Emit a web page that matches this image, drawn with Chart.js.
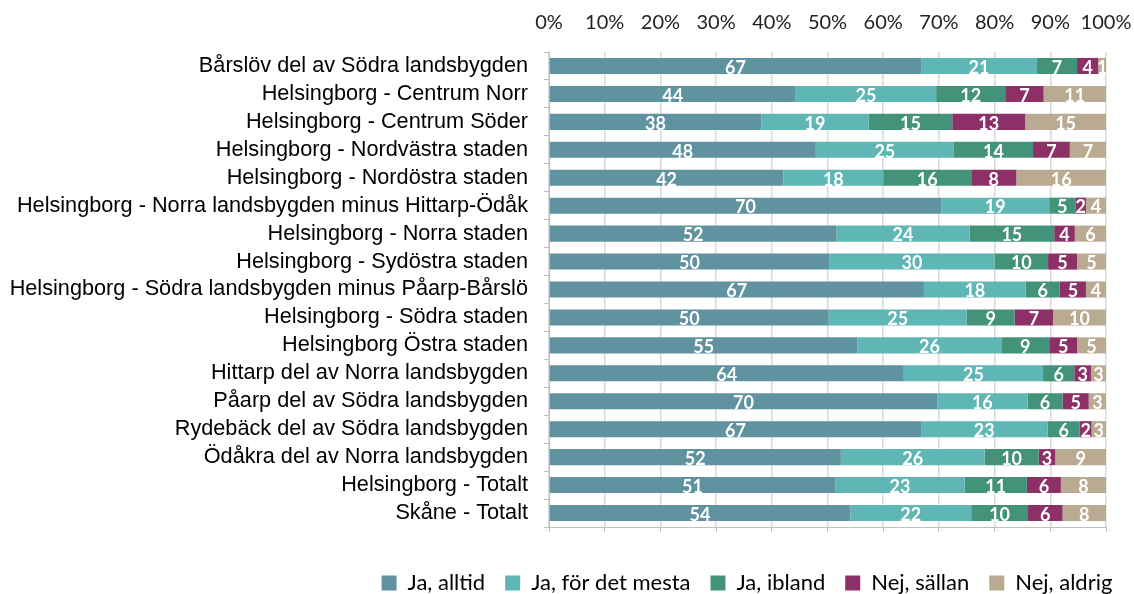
<!DOCTYPE html>
<html>
<head>
<meta charset="utf-8">
<script src="https://cdn.jsdelivr.net/npm/chart.js@4.4.1/dist/chart.umd.min.js"></script>
<style>
html,body{margin:0;padding:0;background:#fff;}
#wrap{width:1134px;height:594px;position:relative;}
</style>
</head>
<body>
<div id="wrap"><canvas id="c" width="1134" height="594"></canvas></div>
<script>
const categories = [
  "Bårslöv del av Södra landsbygden",
  "Helsingborg - Centrum Norr",
  "Helsingborg - Centrum Söder",
  "Helsingborg - Nordvästra staden",
  "Helsingborg - Nordöstra staden",
  "Helsingborg - Norra landsbygden minus Hittarp-Ödåk",
  "Helsingborg - Norra staden",
  "Helsingborg - Sydöstra staden",
  "Helsingborg - Södra landsbygden minus Påarp-Bårslö",
  "Helsingborg - Södra staden",
  "Helsingborg Östra staden",
  "Hittarp del av Norra landsbygden",
  "Påarp del av Södra landsbygden",
  "Rydebäck del av Södra landsbygden",
  "Ödåkra del av Norra landsbygden",
  "Helsingborg - Totalt",
  "Skåne - Totalt"
];
const seriesNames = ["Ja, alltid", "Ja, för det mesta", "Ja, ibland", "Nej, sällan", "Nej, aldrig"];
const jaAlltid     = [66.8, 44.3, 38.1, 47.9, 42.1, 70.4, 51.6, 50.3, 67.3, 50.2, 55.4, 63.7, 69.7, 66.8, 52.4, 51.4, 54.1];
const jaMesta      = [20.8, 25.2, 19.3, 24.8, 17.9, 19.4, 23.9, 29.7, 18.3, 24.8, 25.8, 25.0, 16.2, 22.7, 25.8, 23.2, 21.7];
const jaIbland     = [7.2, 12.4, 15.0, 14.2, 15.8, 4.7, 15.2, 9.6, 6.1, 8.6, 8.6, 5.6, 6.3, 5.8, 9.7, 11.2, 10.2];
const nejSallan    = [3.8, 6.9, 13.1, 6.6, 8.1, 1.9, 3.7, 5.2, 4.7, 6.9, 5.0, 3.0, 4.7, 2.1, 3.0, 6.1, 6.2];
const nejAldrig    = [1.4, 11.2, 14.5, 6.5, 16.1, 3.6, 5.6, 5.2, 3.6, 9.5, 5.2, 2.7, 3.1, 2.6, 9.1, 8.1, 7.8];
const tickValues   = [0, 10, 20, 30, 40, 50, 60, 70, 80, 90, 100];

const colors = ["#5F939F", "#5EB7B4", "#43927A", "#8E3068", "#B9AA91"];
const seriesData = [jaAlltid, jaMesta, jaIbland, nejSallan, nejAldrig];

const labelPlugin = {
  id: 'segLabels',
  afterDatasetsDraw(chart) {
    const ctx = chart.ctx;
    ctx.save();
    ctx.font = 'bold 18px Lato';
    ctx.fillStyle = '#ffffff';
    ctx.textAlign = 'center';
    ctx.textBaseline = 'middle';
    chart.data.datasets.forEach((ds, di) => {
      const meta = chart.getDatasetMeta(di);
      meta.data.forEach((el, i) => {
        const v = ds.data[i];
        const cx = (el.x + el.base) / 2;
        ctx.fillText(String(Math.round(v)), cx, el.y + 2);
      });
    });
    ctx.restore();
  }
};

const legendFitPlugin = {
  id: 'legendFit',
  beforeInit(chart) {
    const orig = chart.legend.fit;
    chart.legend.fit = function() {
      orig.bind(chart.legend)();
      this.height = 42;
    };
  },
  afterLayout(chart) {
    chart.legend.left = 360;
    chart.legend.right = 1134;
  }
};

new Chart(document.getElementById('c'), {
  type: 'bar',
  data: {
    labels: categories,
    datasets: seriesNames.map((n, k) => ({
      label: n,
      data: seriesData[k],
      backgroundColor: colors[k],
      borderWidth: 0,
      barPercentage: 0.575,
      categoryPercentage: 1.0,
      xAxisID: 'x'
    }))
  },
  options: {
    indexAxis: 'y',
    responsive: false,
    animation: false,
    layout: { padding: { left: 0, right: 28, top: 0, bottom: 0 } },
    plugins: {
      tooltip: { enabled: false },
      legend: {
        position: 'bottom',
        labels: {
          boxWidth: 15, boxHeight: 15, padding: 20,
          color: '#000', font: { family: 'Lato', size: 22 }
        }
      }
    },
    scales: {
      x: {
        position: 'top',
        stacked: true,
        min: 0, max: 100,
        afterBuildTicks(scale) { scale.ticks = tickValues.map(v => ({ value: v })); },
        afterFit(scale) { scale.height = 52; scale.paddingLeft = 0; scale.paddingRight = 0; },
        ticks: {
          callback: v => v + '%',
          color: '#222', padding: 17, maxRotation: 0, autoSkip: false,
          font: { family: 'Lato', size: 20 }
        },
        grid: { color: '#d9d9d9', lineWidth: 1.5, drawTicks: false, tickLength: 0 },
        border: { display: false }
      },
      x2: {
        position: 'bottom',
        min: 0, max: 100,
        afterBuildTicks(scale) { scale.ticks = tickValues.map(v => ({ value: v })); },
        afterFit(scale) { scale.height = 25; scale.paddingLeft = 0; scale.paddingRight = 0; },
        ticks: { display: false },
        grid: { drawOnChartArea: false, drawTicks: true, tickLength: 5, color: '#bfbfbf' },
        border: { display: true, color: '#bfbfbf' }
      },
      y: {
        stacked: true,
        afterFit(scale) { scale.width = 549; },
        ticks: {
          color: '#000', padding: 16, autoSkip: false,
          font: { family: "'Liberation Sans', Arial, sans-serif", size: 21.7 }
        },
        grid: { offset: true, drawOnChartArea: false, drawTicks: true, tickLength: 5, color: '#bfbfbf' },
        border: { display: true, color: '#bfbfbf' }
      }
    }
  },
  plugins: [labelPlugin, legendFitPlugin]
});
</script>
</body>
</html>
